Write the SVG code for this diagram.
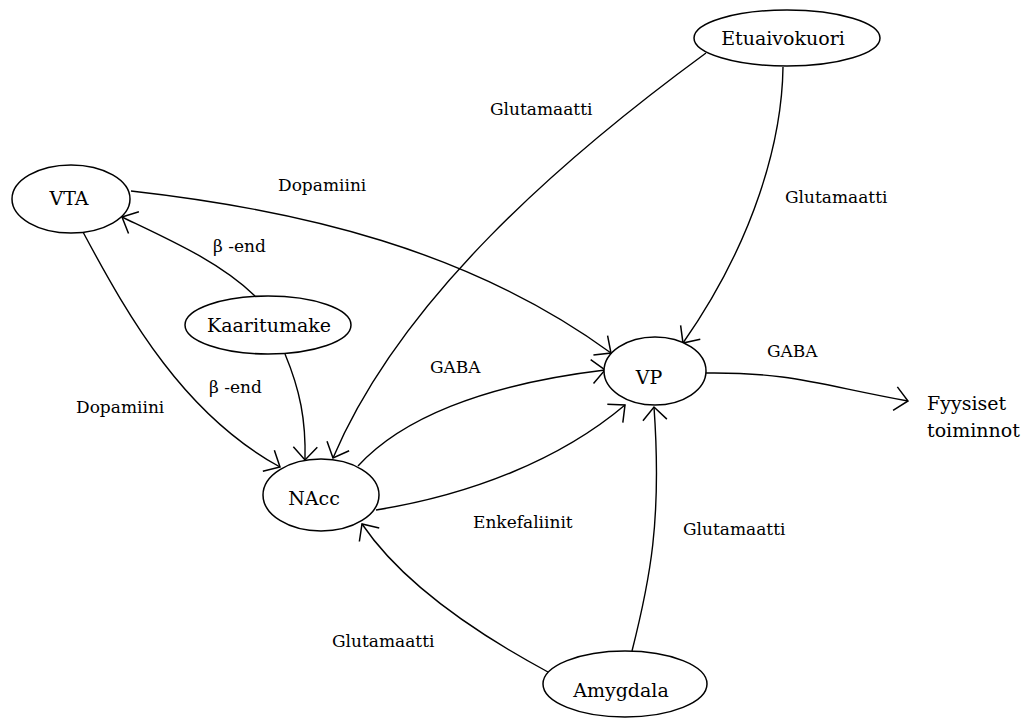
<svg xmlns="http://www.w3.org/2000/svg" width="1024" height="720" viewBox="0 0 1024 720">
<style>
.node ellipse{fill:#fff;stroke:#000;stroke-width:1.5}
.node text{font-family:"DejaVu Serif","Liberation Serif",serif;font-size:19px;fill:#000;text-anchor:middle}
.lbl{font-family:"DejaVu Serif","Liberation Serif",serif;font-size:17px;fill:#000}
.edge{fill:none;stroke:#000;stroke-width:1.4;marker-end:url(#arr)}
</style>
<defs>
<marker id="arr" markerUnits="userSpaceOnUse" markerWidth="30" markerHeight="30" viewBox="-20 -15 25 30" refX="0" refY="0" orient="auto">
<path d="M-13,-12 L0,0 L-13,12" fill="none" stroke="#000" stroke-width="1.5"/>
</marker>
</defs>
<rect width="1024" height="720" fill="#fff"/>
<g id="connectors">
<path class="edge" d="M706,53 C560,160 400,300 333,458"/>
<path class="edge" d="M783,67 C782,140 755,240 683,343"/>
<path class="edge" d="M131,191 C300,210 470,250 611,353"/>
<path class="edge" d="M255,296 C220,262 170,240 122,217"/>
<path class="edge" d="M83,232 C130,320 185,415 280,467"/>
<path class="edge" d="M285,354 C300,390 306,420 305,460"/>
<path class="edge" d="M358,466 C400,420 480,385 605,370"/>
<path class="edge" d="M376,510 C470,495 560,460 625,405"/>
<path class="edge" d="M632,651 C650,580 662,520 654,407"/>
<path class="edge" d="M548,672 C470,630 400,580 362,524"/>
<path class="edge" d="M706,373 C790,372 820,385 908,401"/>
</g>
<g id="labels">
<text class="lbl" x="490" y="115">Glutamaatti</text>
<text class="lbl" x="278" y="191">Dopamiini</text>
<text class="lbl" x="785" y="203">Glutamaatti</text>
<text class="lbl" x="213" y="252">β -end</text>
<text class="lbl" x="209" y="393">β -end</text>
<text class="lbl" x="76" y="413">Dopamiini</text>
<text class="lbl" x="430" y="373">GABA</text>
<text class="lbl" x="767" y="357">GABA</text>
<text class="lbl" x="473" y="528">Enkefaliinit</text>
<text class="lbl" x="683" y="535">Glutamaatti</text>
<text class="lbl" x="332" y="647">Glutamaatti</text>
<text class="lbl" x="927" y="410" style="font-size:19px">Fyysiset</text>
<text class="lbl" x="927" y="437" style="font-size:19px">toiminnot</text>
</g>
<g id="node-vta" class="node"><ellipse cx="71" cy="199" rx="59" ry="34"/><text x="69" y="205">VTA</text></g>
<g id="node-kaaritumake" class="node"><ellipse cx="268" cy="325" rx="83" ry="29"/><text x="269" y="332">Kaaritumake</text></g>
<g id="node-nacc" class="node"><ellipse cx="321" cy="495" rx="58" ry="36"/><text x="314" y="505">NAcc</text></g>
<g id="node-vp" class="node"><ellipse cx="655" cy="371" rx="51" ry="34"/><text x="649" y="384">VP</text></g>
<g id="node-etuaivokuori" class="node"><ellipse cx="787" cy="38" rx="93" ry="28"/><text x="783" y="45">Etuaivokuori</text></g>
<g id="node-amygdala" class="node"><ellipse cx="625" cy="684" rx="82" ry="33"/><text x="621" y="697">Amygdala</text></g>
</svg>
